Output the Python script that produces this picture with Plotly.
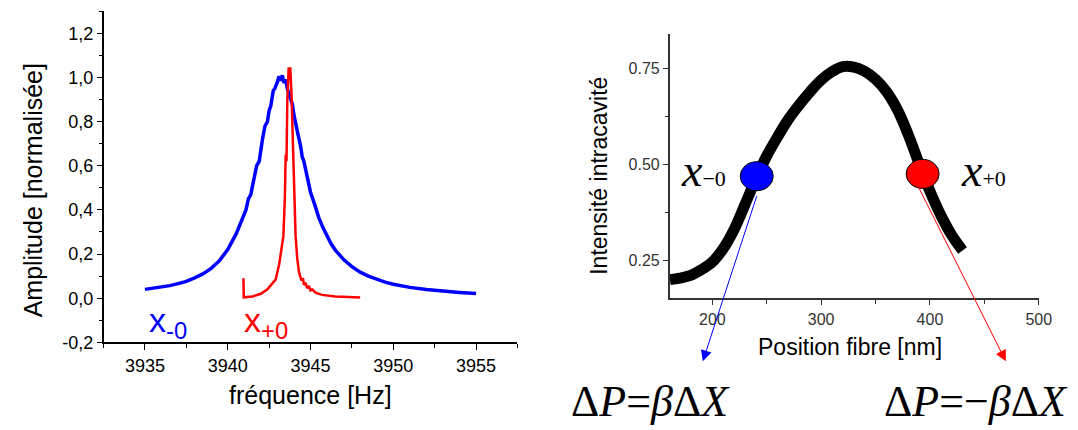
import plotly.graph_objects as go

# ---- Left panel data: spectra ----
blue_x = [3935, 3935.5, 3936, 3936.5, 3937, 3937.5, 3938, 3938.5, 3939, 3939.25, 3939.5, 3939.75,
          3940, 3940.25, 3940.5, 3940.75, 3941, 3941.1, 3941.25, 3941.4, 3941.5, 3941.6, 3941.75, 3941.9,
          3942, 3942.1, 3942.25, 3942.4, 3942.5, 3942.6, 3942.75, 3942.85, 3943, 3943.1, 3943.2, 3943.3,
          3943.4, 3943.5, 3943.6, 3943.75, 3943.9, 3944, 3944.1, 3944.25, 3944.4, 3944.5, 3944.6, 3944.75,
          3944.9, 3945, 3945.25, 3945.5, 3945.75, 3946, 3946.25, 3946.5, 3946.75, 3947, 3947.5, 3948,
          3948.5, 3949, 3949.5, 3950, 3950.5, 3951, 3952, 3953, 3954, 3955]
blue_y = [0.040, 0.045, 0.050, 0.057, 0.066, 0.076, 0.092, 0.110, 0.135, 0.150, 0.170, 0.195,
          0.220, 0.255, 0.290, 0.335, 0.385, 0.400, 0.450, 0.470, 0.510, 0.540, 0.600, 0.620,
          0.675, 0.720, 0.780, 0.800, 0.850, 0.870, 0.940, 0.950, 0.980, 1.005, 0.985, 1.010,
          0.975, 0.990, 0.950, 0.910, 0.880, 0.830, 0.800, 0.740, 0.690, 0.640, 0.620, 0.565,
          0.520, 0.480, 0.425, 0.365, 0.320, 0.280, 0.245, 0.218, 0.195, 0.175, 0.143, 0.118,
          0.100, 0.085, 0.073, 0.063, 0.055, 0.049, 0.039, 0.031, 0.026, 0.021]

red_x = [3940.95, 3940.97, 3941.5, 3942.0, 3942.4, 3942.7, 3942.9, 3943.0, 3943.1, 3943.2, 3943.36,
         3943.45, 3943.5, 3943.55, 3943.6, 3943.68, 3943.78, 3943.85, 3943.94, 3944.0, 3944.1, 3944.2,
         3944.3, 3944.45, 3944.55, 3944.6, 3944.7, 3944.8, 3944.9, 3945.0, 3945.1, 3945.3, 3945.7,
         3946.5, 3947.2, 3948.0]
red_y = [0.090, 0.004, 0.008, 0.020, 0.040, 0.070, 0.085, 0.120, 0.150, 0.200, 0.280,
         0.450, 0.650, 0.620, 0.900, 1.040, 1.040, 0.930, 0.700, 0.500, 0.280, 0.180,
         0.120, 0.080, 0.090, 0.060, 0.070, 0.045, 0.055, 0.035, 0.040, 0.025, 0.015,
         0.008, 0.005, 0.003]

left_ytick_vals = [-0.2, 0.0, 0.2, 0.4, 0.6, 0.8, 1.0, 1.2]
left_ytick_text = ["-0,2", "0,0", "0,2", "0,4", "0,6", "0,8", "1,0", "1,2"]

# ---- Right panel data: intracavity intensity vs fibre position ----
pos_x = [161, 170, 180, 190, 200, 210, 220, 230, 240, 250, 260, 270, 280, 290, 300, 310, 320,
         330, 340, 350, 360, 370, 380, 390, 400, 410, 420, 430]
pos_y = [0.199, 0.203, 0.210, 0.225, 0.245, 0.280, 0.330, 0.395, 0.462, 0.522, 0.572, 0.618,
         0.656, 0.690, 0.720, 0.742, 0.755, 0.754, 0.743, 0.722, 0.690, 0.643, 0.578, 0.502,
         0.430, 0.367, 0.315, 0.275]

dot_x = [240.8, 393.3]
dot_y = [0.469, 0.475]
dot_colors = ["#0000ff", "#ff0000"]

SANS = "Arial, Liberation Sans, sans-serif"
SERIF = "Times New Roman, Liberation Serif, serif"

fig = go.Figure()
fig.add_trace(go.Scatter(x=blue_x, y=blue_y, mode="lines", line=dict(color="#0000ff", width=3.5),
                         xaxis="x", yaxis="y", showlegend=False))
fig.add_trace(go.Scatter(x=red_x, y=red_y, mode="lines", line=dict(color="#ff0000", width=2.5),
                         xaxis="x", yaxis="y", showlegend=False))
fig.add_trace(go.Scatter(x=pos_x, y=pos_y, mode="lines",
                         line=dict(color="#000000", width=11, shape="spline", smoothing=1.0),
                         xaxis="x2", yaxis="y2", showlegend=False))

for dx, dy, c in zip(dot_x, dot_y, dot_colors):
    fig.add_shape(type="circle", xref="x2", yref="y2", xsizemode="pixel", ysizemode="pixel",
                  xanchor=dx, yanchor=dy, x0=-16.5, x1=16.5, y0=-14.5, y1=14.5,
                  fillcolor=c, line=dict(color="black", width=1), layer="above")

W, H = 1078, 430
def px(x):
    return x / W
def py(y):
    return 1 - y / H

def label(text, x, y, size, family=SANS, color="black", angle=0, xa="center", ya="middle"):
    return dict(text=text, x=px(x), y=py(y), xref="paper", yref="paper", xanchor=xa, yanchor=ya,
                showarrow=False, textangle=angle, font=dict(family=family, size=size, color=color))

ann = [
    label("fréquence [Hz]", 306, 396, 25),
    label("Amplitude [normalisée]", 25, 187, 25, angle=-90),
    label("Position fibre [nm]", 852, 347, 23),
    label("Intensité intracavité", 598, 172, 23, angle=-90),
    label("x<sub>-0</sub>", 141, 322, 34, color="#0000ff", xa="left"),
    label("x<sub>+0</sub>", 237, 322, 34, color="#ff0000", xa="left"),
    label("<i>x</i><span style='font-size:22px'>−0</span>", 679, 166, 46, family=SERIF, xa="left"),
    label("<i>x</i><span style='font-size:22px'>+0</span>", 963, 166, 46, family=SERIF, xa="left"),
    label("Δ<i>P</i>=<i>β</i>Δ<i>X</i>", 650, 403, 44, family=SERIF),
    label("Δ<i>P</i>=−<i>β</i>Δ<i>X</i>", 980, 403, 44, family=SERIF),
]
# arrows
ann.append(dict(text="", x=px(703.3), y=py(361.7), xref="paper", yref="paper",
                ax=757.7 - 703.3, ay=195 - 361.7, axref="pixel", ayref="pixel",
                showarrow=True, arrowhead=2, arrowsize=2.2, arrowwidth=1, arrowcolor="#0000ff"))
ann.append(dict(text="", x=px(1010), y=py(361.7), xref="paper", yref="paper",
                ax=922.3 - 1010, ay=186.7 - 361.7, axref="pixel", ayref="pixel",
                showarrow=True, arrowhead=2, arrowsize=2.2, arrowwidth=1, arrowcolor="#ff0000"))

fig.update_layout(
    width=W, height=H, margin=dict(l=0, r=0, t=0, b=0),
    paper_bgcolor="white", plot_bgcolor="white", showlegend=False,
    annotations=ann,
    xaxis=dict(domain=[px(96.7), px(515.7)], range=[3932.5, 3957.5], anchor="y",
               tick0=3935, dtick=5, ticks="outside", ticklen=6, tickwidth=1.3, tickcolor="black",
               minor=dict(dtick=2.5, tick0=3932.5, ticks="outside", ticklen=4, tickwidth=1.3, tickcolor="black"),
               showline=True, linecolor="black", linewidth=1.5, showgrid=False, zeroline=False,
               tickfont=dict(family=SANS, size=18, color="black")),
    yaxis=dict(domain=[py(342.3), py(3.3)], range=[-0.2, 1.3], anchor="x",
               tickmode="array", tickvals=left_ytick_vals, ticktext=left_ytick_text,
               ticks="outside", ticklen=5, tickwidth=1.3, tickcolor="black",
               minor=dict(dtick=0.1, tick0=-0.2, ticks="outside", ticklen=3, tickwidth=1.3, tickcolor="black"),
               showline=True, linecolor="black", linewidth=1.5, showgrid=False, zeroline=False,
               tickfont=dict(family=SANS, size=18, color="black")),
    xaxis2=dict(domain=[px(670), px(1043.3)], range=[161, 500], anchor="y2",
                tick0=0, dtick=100, ticks="outside", ticklen=5, tickwidth=1.3, tickcolor="#333333",
                minor=dict(dtick=50, tick0=0, ticks="outside", ticklen=4, tickwidth=1.3, tickcolor="#333333"),
                showline=True, linecolor="#333333", linewidth=2, showgrid=False, zeroline=False,
                tickfont=dict(family=SANS, size=16, color="#333333")),
    yaxis2=dict(domain=[py(297.3), py(26.7)], range=[0.15, 0.84], anchor="x2",
                tickmode="array", tickvals=[0.25, 0.5, 0.75], tickformat=".2f",
                ticks="outside", ticklen=5, tickwidth=1.3, tickcolor="#333333",
                minor=dict(dtick=0.125, tick0=0, ticks="outside", ticklen=3, tickwidth=1.3, tickcolor="#333333"),
                showline=True, linecolor="#333333", linewidth=2, showgrid=False, zeroline=False,
                tickfont=dict(family=SANS, size=16, color="#333333")),
)

fig.write_html("out.html")
